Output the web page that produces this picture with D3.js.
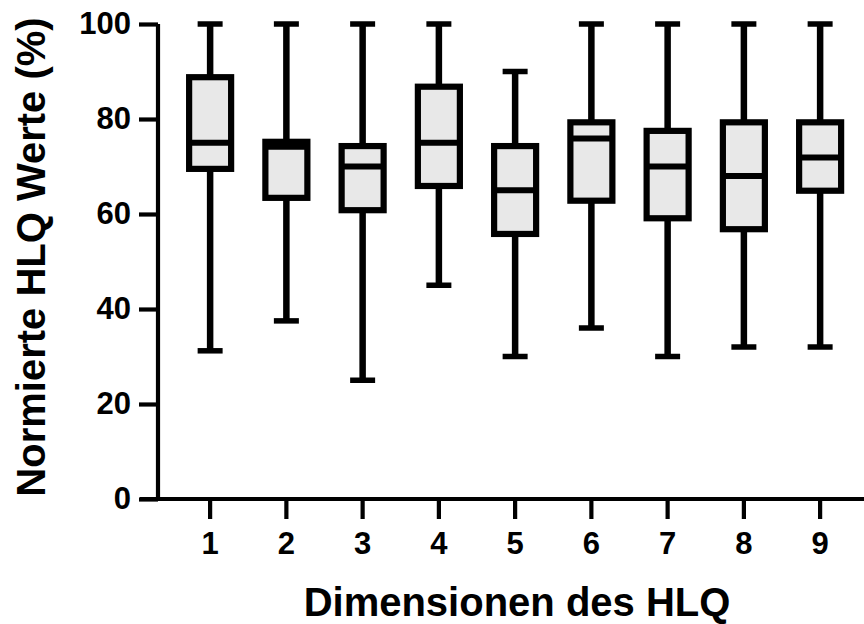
<!DOCTYPE html>
<html>
<head>
<meta charset="utf-8">
<script src="https://cdn.jsdelivr.net/npm/d3@7"></script>
<style>
  body { margin: 0; background: #fff; }
  text { font-family: "Liberation Sans", Arial, sans-serif; font-weight: bold; }
</style>
</head>
<body>
<div id="chart"></div>
<script>
// HLQ dimensions, box plots (min, q1, median, q3, max)
var dimensions = ["1", "2", "3", "4", "5", "6", "7", "8", "9"];
var minVals    = [31.2, 37.5, 25, 45, 30, 36, 30, 32, 32];
var q1Vals     = [69.5, 63.4, 60.8, 65.9, 55.8, 62.8, 59.1, 56.8, 64.9];
var medianVals = [75, 74.2, 70, 75, 65, 75.9, 70, 68, 71.9];
var q3Vals     = [88.8, 75.2, 74.3, 86.8, 74.3, 79.3, 77.5, 79.3, 79.3];
var maxVals    = [100, 100, 100, 100, 90, 100, 100, 100, 100];
var yTicks     = [0, 20, 40, 60, 80, 100];

var chart_width = 864;
var chart_height = 624;

var boxes = dimensions.map(function(d, i) {
    return { dim: d, min: minVals[i], q1: q1Vals[i], med: medianVals[i], q3: q3Vals[i], max: maxVals[i] };
});

var svg = d3.select('#chart')
    .append('svg')
    .attr('width', chart_width)
    .attr('height', chart_height);

var x = d3.scaleBand()
    .domain(dimensions)
    .range([172, 858.25]);

var y = d3.scaleLinear()
    .domain([0, 100])
    .range([499, 24]);

var boxW = 42;
var capW = 25;

// y axis
var yAxis = svg.append('g')
    .attr('transform', 'translate(158,0)')
    .call(d3.axisLeft(y).tickValues(yTicks).tickSize(19).tickPadding(8));
yAxis.select('.domain')
    .attr('d', 'M0,' + y(100) + 'V' + y(0));
yAxis.selectAll('line, .domain')
    .attr('stroke', '#000')
    .attr('stroke-width', 4.2);
yAxis.selectAll('text')
    .attr('font-size', 31)
    .attr('fill', '#000')
    .attr('font-family', '"Liberation Sans", Arial, sans-serif')
    .attr('font-weight', 'bold');

// x axis
var xAxis = svg.append('g')
    .attr('transform', 'translate(0,' + y(0) + ')')
    .call(d3.axisBottom(x).tickSize(20).tickPadding(13));
xAxis.select('.domain')
    .attr('d', 'M140,0H' + chart_width);
xAxis.selectAll('line, .domain')
    .attr('stroke', '#000')
    .attr('stroke-width', 4.2);
xAxis.selectAll('text')
    .attr('font-size', 31)
    .attr('fill', '#000')
    .attr('font-family', '"Liberation Sans", Arial, sans-serif')
    .attr('font-weight', 'bold');

// boxes
var g = svg.append('g');
var cx = function(d) { return x(d.dim) + x.bandwidth() / 2; };

g.selectAll('.whisker')
    .data(boxes)
    .enter()
    .append('line')
    .attr('x1', cx)
    .attr('x2', cx)
    .attr('y1', function(d) { return y(d.max); })
    .attr('y2', function(d) { return y(d.min); })
    .attr('stroke', '#000')
    .attr('stroke-width', 6.5);

g.selectAll('.capTop')
    .data(boxes)
    .enter()
    .append('line')
    .attr('x1', function(d) { return cx(d) - capW / 2; })
    .attr('x2', function(d) { return cx(d) + capW / 2; })
    .attr('y1', function(d) { return y(d.max); })
    .attr('y2', function(d) { return y(d.max); })
    .attr('stroke', '#000')
    .attr('stroke-width', 5.5);

g.selectAll('.capBottom')
    .data(boxes)
    .enter()
    .append('line')
    .attr('x1', function(d) { return cx(d) - capW / 2; })
    .attr('x2', function(d) { return cx(d) + capW / 2; })
    .attr('y1', function(d) { return y(d.min); })
    .attr('y2', function(d) { return y(d.min); })
    .attr('stroke', '#000')
    .attr('stroke-width', 5.5);

g.selectAll('.box')
    .data(boxes)
    .enter()
    .append('rect')
    .attr('x', function(d) { return cx(d) - boxW / 2; })
    .attr('width', boxW)
    .attr('y', function(d) { return y(d.q3); })
    .attr('height', function(d) { return y(d.q1) - y(d.q3); })
    .attr('fill', '#e8e8e8')
    .attr('stroke', '#000')
    .attr('stroke-width', 6.2);

g.selectAll('.median')
    .data(boxes)
    .enter()
    .append('line')
    .attr('x1', function(d) { return cx(d) - boxW / 2; })
    .attr('x2', function(d) { return cx(d) + boxW / 2; })
    .attr('y1', function(d) { return y(d.med); })
    .attr('y2', function(d) { return y(d.med); })
    .attr('stroke', '#000')
    .attr('stroke-width', 6.2);

// axis titles
svg.append('text')
    .text('Dimensionen des HLQ')
    .attr('x', 517)
    .attr('y', 616)
    .attr('text-anchor', 'middle')
    .attr('font-size', 40)
    .attr('fill', '#000');

svg.append('text')
    .text('Normierte HLQ Werte (%)')
    .attr('transform', 'translate(45,257) rotate(-90)')
    .attr('text-anchor', 'middle')
    .attr('font-size', 40)
    .attr('fill', '#000');
</script>
</body>
</html>
